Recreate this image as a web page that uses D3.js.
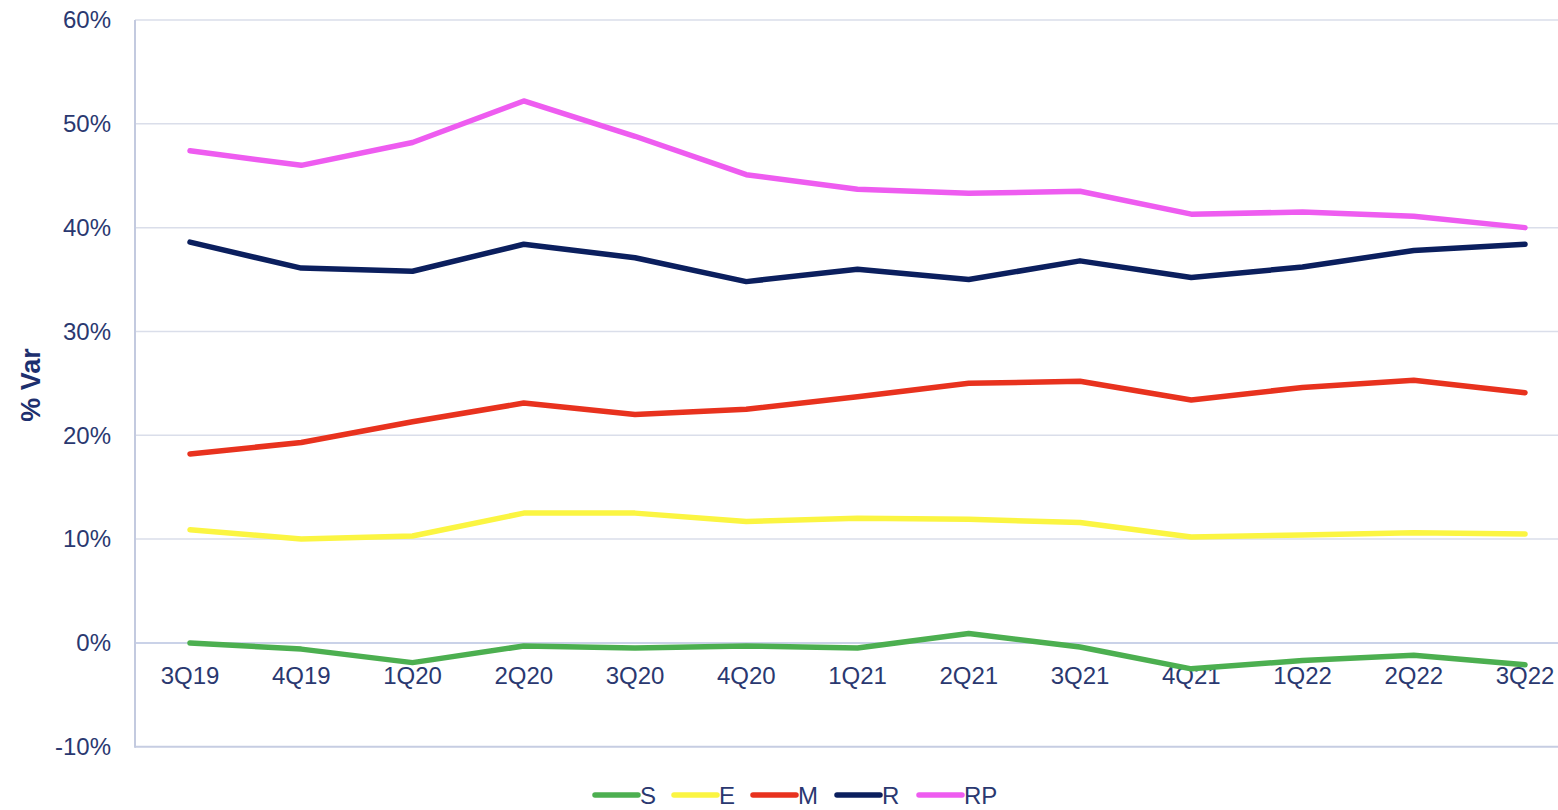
<!DOCTYPE html>
<html>
<head>
<meta charset="utf-8">
<script src="https://cdn.jsdelivr.net/npm/d3@7"></script>
<style>
  html, body { margin: 0; padding: 0; background: #ffffff; }
  svg { display: block; }
  text { font-family: "Liberation Sans", Arial, sans-serif; fill: #2a3870; }
</style>
</head>
<body>
<svg id="chart" width="1558" height="810"></svg>
<script>
// Quarters on the x axis
const quarters = ["3Q19","4Q19","1Q20","2Q20","3Q20","4Q20","1Q21","2Q21","3Q21","4Q21","1Q22","2Q22","3Q22"];

// Series values, in percent
const sValues  = [0.0, -0.6, -1.9, -0.3, -0.5, -0.3, -0.5, 0.9, -0.4, -2.5, -1.7, -1.2, -2.1];
const eValues  = [10.9, 10.0, 10.3, 12.5, 12.5, 11.7, 12.0, 11.9, 11.6, 10.2, 10.4, 10.6, 10.5];
const mValues  = [18.2, 19.3, 21.3, 23.1, 22.0, 22.5, 23.7, 25.0, 25.2, 23.4, 24.6, 25.3, 24.1];
const rValues  = [38.6, 36.1, 35.8, 38.4, 37.1, 34.8, 36.0, 35.0, 36.8, 35.2, 36.2, 37.8, 38.4];
const rpValues = [47.4, 46.0, 48.2, 52.2, 48.8, 45.1, 43.7, 43.3, 43.5, 41.3, 41.5, 41.1, 40.0];

// Y axis ticks
const yTicks = [-10, 0, 10, 20, 30, 40, 50, 60];

const seriesNames  = ["S", "E", "M", "R", "RP"];
const seriesColors = ["#4caf50", "#fbf542", "#e8321e", "#0b1f5e", "#ee5cf0"];
const seriesData   = [sValues, eValues, mValues, rValues, rpValues];

const svg = d3.select("#chart");

const x = d3.scalePoint().domain(quarters).range([190, 1525]);
const y = d3.scaleLinear().domain([-10, 60]).range([746.7, 20]);

// Horizontal grid lines
svg.append("g")
  .selectAll("line")
  .data(yTicks)
  .join("line")
  .attr("x1", 135).attr("x2", 1558)
  .attr("y1", d => y(d)).attr("y2", d => y(d))
  .attr("stroke", d => d === -10 ? "#c6cde2" : (d === 0 ? "#b9c3e0" : "#dadeea"))
  .attr("stroke-width", d => d === -10 ? 2 : 1.5);

// Vertical axis line
svg.append("line")
  .attr("x1", 135).attr("x2", 135)
  .attr("y1", y(60)).attr("y2", y(-10) + 1)
  .attr("stroke", "#c3cadf")
  .attr("stroke-width", 2);

// Y tick labels
svg.append("g")
  .selectAll("text")
  .data(yTicks)
  .join("text")
  .attr("x", 111)
  .attr("y", d => y(d))
  .attr("dy", "0.35em")
  .attr("text-anchor", "end")
  .attr("font-size", 24)
  .text(d => d + "%");

// X tick labels
svg.append("g")
  .selectAll("text")
  .data(quarters)
  .join("text")
  .attr("x", d => x(d))
  .attr("y", 684)
  .attr("text-anchor", "middle")
  .attr("font-size", 24)
  .text(d => d);

// Y axis title
svg.append("text")
  .attr("transform", "translate(40,385) rotate(-90)")
  .attr("text-anchor", "middle")
  .attr("font-size", 27)
  .attr("font-weight", "bold")
  .style("fill", "#1d2f6e")
  .text("% Var");

// Series lines
const line = d3.line()
  .x((d, i) => x(quarters[i]))
  .y(d => y(d));

svg.append("g")
  .selectAll("path")
  .data(seriesData)
  .join("path")
  .attr("d", d => line(d))
  .attr("fill", "none")
  .attr("stroke", (d, i) => seriesColors[i])
  .attr("stroke-width", 5.5)
  .attr("stroke-linecap", "round")
  .attr("stroke-linejoin", "round");

// Legend
const legendX = [595, 674, 753, 837, 919];
const legend = svg.append("g")
  .selectAll("g")
  .data(seriesNames)
  .join("g")
  .attr("transform", (d, i) => `translate(${legendX[i]},795)`);

legend.append("line")
  .attr("x1", 0).attr("x2", 43)
  .attr("y1", 0).attr("y2", 0)
  .attr("stroke", (d, i) => seriesColors[i])
  .attr("stroke-width", 5.5)
  .attr("stroke-linecap", "round");

legend.append("text")
  .attr("x", 45)
  .attr("y", 0)
  .attr("dy", "0.36em")
  .attr("font-size", 24)
  .text(d => d);
</script>
</body>
</html>
